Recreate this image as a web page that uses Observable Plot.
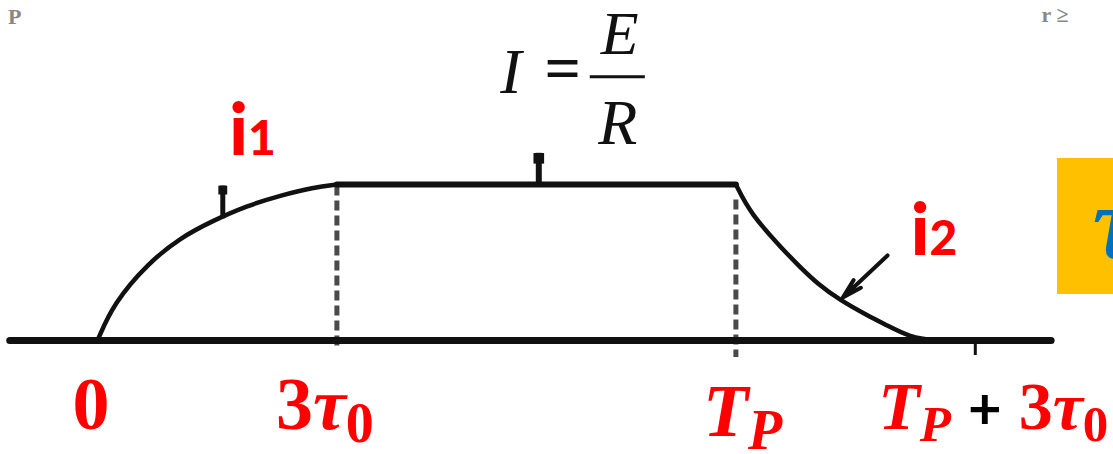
<!DOCTYPE html>
<html>
<head>
<meta charset="utf-8">
<script src="https://cdn.jsdelivr.net/npm/d3@7"></script>
<script src="https://cdn.jsdelivr.net/npm/@observablehq/plot@0.6"></script>
<style>
  html, body { margin: 0; padding: 0; background: #fff; }
  #chart { width: 1113px; height: 454px; overflow: hidden; }
  #chart text { white-space: pre; }
</style>
</head>
<body>
<div id="chart"></div>
<script>
// Time is measured in units of τ0, current in units of I = E/R.

// i1: current building up after the switch closes (0 … 3τ0)
const riseT = [0, 0.20, 0.63, 1.04, 1.45, 1.88, 2.29, 2.71, 3.0];
const riseI = [0, 0.237, 0.494, 0.660, 0.769, 0.865, 0.929, 0.981, 1.0];

// steady current I = E/R (3τ0 … Tp)
const plateauT = [3, 8];
const plateauI = [1, 1];

// i2: current dying away after the switch opens (Tp … Tp + 3τ0)
const decayT = [8, 8.18, 8.60, 8.81, 9.02, 9.31, 9.65, 9.87, 10.19, 10.48, 10.8];
const decayI = [1, 0.814, 0.577, 0.468, 0.365, 0.256, 0.160, 0.103, 0.019, 0, 0];

// time axis
const axisSpan = [-1.1, 11.95];
const tickTimes = [0, 3, 8, 11];
const tickLabels = ["0", "3τ_0", "T_P", "T_P + 3τ_0"];

// dashed guides at 3τ0 and Tp
const guideTimes = [3, 8];
const guideTop = [0.99, 0.90];
const guideBottom = [-0.045, -0.109];

// pointers to the curves
const currentLabels = ["i1", "i2"];
const currentLabelT = [1.65, 10.19];
const currentLabelI = [1.186, 0.545];
const i1Pointer = {t: 1.57, from: 0.78, to: 0.99};
const levelPointer = {t: 5.53, from: 1.0, to: 1.2};
const i2Pointer = {t1: 9.90, i1: 0.545, t2: 9.34, i2: 0.276};

// steady-state formula I = E / R
const formula = {t: 6.52, i: 1.69, lhs: "I", rel: "=", num: "E", den: "R", barHalf: 0.345};

// τ badge at the right edge
const badge = {t1: 12.03, t2: 13.2, i1: 0.295, i2: 1.167, glyph: "τ", gt: 12.47, gi: 0.526};

// scraps of neighbouring text at the top corners
const scraps = [{text: "P", t: -1.12, i: 2.03}, {text: "r ≥", t: 11.83, i: 2.04}];

const W = 1113, H = 454;
const PX_PER_T = 79.8, T0_PX = 97;
const PX_PER_I = 156, I0_PX = 340;

const pts = (T, I) => T.map((t, k) => ({t, i: I[k]}));
const rise = pts(riseT, riseI);
const plateau = pts(plateauT, plateauI);
const decay = pts(decayT, decayI);
const axisLine = axisSpan.map(t => ({t, i: 0}));
const ticks = tickTimes.map((t, k) => ({t, label: tickLabels[k]}));
const guides = guideTimes.map((t, k) => ({t, top: guideTop[k], bottom: guideBottom[k]}));
const curLabels = currentLabels.map((label, k) => ({label, t: currentLabelT[k], i: currentLabelI[k]}));

const INK = "#111";
const RED = "#ff0000";
const SERIF = "Liberation Serif, Times New Roman, serif";
const SANS = "Lato, Open Sans, sans-serif";

// label nudges in pixels: [dx, dy below the time axis]
const tickNudge = {"0": [-25, 88], "3τ_0": [-61, 88], "T_P": [-33, 95], "T_P + 3τ_0": [-97, 88]};
const tickSize = {"0": 74, "3τ_0": 74, "T_P": 74, "T_P + 3τ_0": 68};

const tickMarks = ticks.map(d => Plot.text([d], {
  x: "t", y: () => 0, text: "label",
  dx: tickNudge[d.label][0], dy: tickNudge[d.label][1],
  textAnchor: "start", lineAnchor: "bottom",
  fill: RED, fontSize: tickSize[d.label], fontWeight: "bold", fontFamily: SERIF
}));

const chart = Plot.plot({
  width: W, height: H, margin: 0,
  x: {domain: [-T0_PX / PX_PER_T, (W - T0_PX) / PX_PER_T], axis: null},
  y: {domain: [-(H - I0_PX) / PX_PER_I, I0_PX / PX_PER_I], axis: null},
  style: {background: "#fff", overflow: "hidden"},
  marks: [
    // τ badge
    Plot.rect([badge], {x1: "t1", x2: "t2", y1: "i1", y2: "i2", fill: "#FFC000"}),
    Plot.text([badge], {x: "gt", y: "gi", text: "glyph", fill: "#0070C0", fontSize: 104,
      fontWeight: "bold", fontStyle: "italic", fontFamily: SERIF, textAnchor: "start", lineAnchor: "bottom"}),

    // dashed guides
    Plot.ruleX(guides, {x: "t", y1: "top", y2: "bottom", stroke: "#4a4a4a", strokeWidth: 5, strokeDasharray: "10,5"}),

    // time axis and the tick at Tp + 3τ0
    Plot.line(axisLine, {x: "t", y: "i", stroke: INK, strokeWidth: 7}),
    Plot.ruleX(ticks.filter(d => d.t === 11), {x: "t", y1: 0, y2: -0.096, stroke: INK, strokeWidth: 3}),

    // current curves
    Plot.line(rise, {x: "t", y: "i", curve: "basis", stroke: INK, strokeWidth: 4.5}),
    Plot.line(plateau, {x: "t", y: "i", stroke: INK, strokeWidth: 6}),
    Plot.line(decay, {x: "t", y: "i", curve: "basis", stroke: INK, strokeWidth: 4.5}),

    // pointers
    Plot.ruleX([i1Pointer], {x: "t", y1: "from", y2: "to", stroke: INK, strokeWidth: 5}),
    Plot.ruleX([levelPointer], {x: "t", y1: "from", y2: "to", stroke: INK, strokeWidth: 6}),
    Plot.dot([levelPointer], {x: "t", y: "to", symbol: "square", r: 6, fill: INK, dy: 5}),
    Plot.dot([i1Pointer], {x: "t", y: "to", symbol: "square", r: 5, fill: INK, dy: 4}),
    Plot.arrow([i2Pointer], {x1: "t1", y1: "i1", x2: "t2", y2: "i2", stroke: INK,
      strokeWidth: 4, headLength: 12, headAngle: 30}),

    // current labels i1, i2
    Plot.text(curLabels, {x: "t", y: "i", text: "label", fill: RED, fontSize: 72, fontWeight: 900,
      fontFamily: SANS, textAnchor: "start", lineAnchor: "bottom"}),

    // formula I = E / R
    Plot.text([formula], {x: "t", y: "i", text: "lhs", dx: -107, dy: 16, fontSize: 64,
      fontStyle: "italic", fontFamily: SERIF, fill: INK, textAnchor: "middle", lineAnchor: "bottom"}),
    Plot.text([formula], {x: "t", y: "i", text: "rel", dx: -55, dy: 13, fontSize: 64,
      fontWeight: "bold", fontFamily: SERIF, fill: INK, textAnchor: "middle", lineAnchor: "bottom"}),
    Plot.text([formula], {x: "t", y: "i", text: "num", dx: 2, dy: -23, fontSize: 62,
      fontStyle: "italic", fontFamily: SERIF, fill: INK, textAnchor: "middle", lineAnchor: "bottom"}),
    Plot.text([formula], {x: "t", y: "i", text: "den", dx: 0, dy: 67, fontSize: 64,
      fontStyle: "italic", fontFamily: SERIF, fill: INK, textAnchor: "middle", lineAnchor: "bottom"}),
    Plot.ruleY([formula], {y: "i", x1: d => d.t - d.barHalf, x2: d => d.t + d.barHalf, stroke: INK, strokeWidth: 3}),

    // text scraps at the top corners
    Plot.text(scraps, {x: "t", y: "i", text: "text", fill: "#555", fontSize: 22, fontWeight: "bold",
      fontFamily: SERIF, textAnchor: "start", lineAnchor: "bottom", opacity: 0.7}),

    // time labels
    ...tickMarks
  ]
});

document.getElementById("chart").append(chart);

// Typeset the time labels: "_x" is a subscript, letters are italic, "+" is black.
const tickSet = new Set(tickLabels);
const curSet = new Set(currentLabels);
d3.select(chart).selectAll("text").each(function () {
  const src = this.textContent;
  const el = d3.select(this);
  if (tickSet.has(src)) {
    const size = tickSize[src];
    const sub = Math.round(size * 0.75);
    const shift = Math.round(size * 0.18);
    el.text(null);
    let down = 0;
    for (let k = 0; k < src.length; k++) {
      let ch = src[k], isSub = false;
      if (ch === "_") { isSub = true; ch = src[++k]; }
      const ts = el.append("tspan").text(ch);
      if (/[A-Za-z\u03b1-\u03c9]/.test(ch)) ts.attr("font-style", "italic");
      if (ch === "+") ts.attr("fill", "#000").attr("font-family", SANS).attr("font-size", Math.round(size * 0.86));
      if (isSub) { ts.attr("font-size", sub).attr("dy", shift); down = shift; }
      else if (down) { ts.attr("dy", -down); down = 0; }
    }
  } else if (curSet.has(src)) {
    // the index digit is set smaller on the same baseline
    el.text(null);
    for (const ch of src) {
      const ts = el.append("tspan").text(ch);
      if (/[0-9]/.test(ch)) ts.attr("font-size", 48);
    }
  }
});
</script>
</body>
</html>
